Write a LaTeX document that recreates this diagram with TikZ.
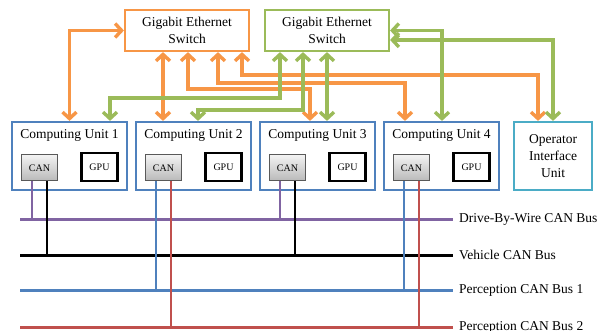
\documentclass[tikz,border=0pt]{standalone}
\usepackage{fontspec}
\setmainfont{Liberation Serif}
\usetikzlibrary{arrows.meta}
\definecolor{ethOrange}{HTML}{F79646}
\definecolor{ethGreen}{HTML}{9BBB59}
\definecolor{unitBlue}{HTML}{4F81BD}
\definecolor{oiuCyan}{HTML}{4BACC6}
\definecolor{busPurple}{HTML}{8064A2}
\definecolor{busRed}{HTML}{C0504D}
\definecolor{busBlue}{HTML}{4F81BD}
\begin{document}
\begin{tikzpicture}
        [x=1pt, y=-1pt, font=\fontsize{13.5}{16}\selectfont,
        switchO/.style={draw=ethOrange, line width=2.2pt, minimum width=124pt, minimum height=41pt, align=center, inner sep=0pt, font=\fontsize{13.5}{17.5}\selectfont},
        switchG/.style={switchO, draw=ethGreen},
        unit/.style={draw=unitBlue, line width=2.2pt, minimum width=115pt, minimum height=68pt},
        canbox/.style={draw=gray!70!black, line width=1pt, top color=gray!10, bottom color=gray!55, minimum width=36pt, minimum height=26pt, font=\fontsize{10}{12}\selectfont},
        gpubox/.style={draw, line width=2.4pt, minimum width=36pt, minimum height=28pt, font=\fontsize{10}{12}\selectfont},
        linkO/.style={ethOrange, line width=3.4pt, {Straight Barb[length=6.5pt,width=14pt]}-{Straight Barb[length=6.5pt,width=14pt]}},
        linkG/.style={linkO, ethGreen},
        stub/.style={line width=2.6pt}]
        \useasboundingbox (0,0) rectangle (602,331);

        \node[switchO] (esw1) at (187,30.5) {Gigabit Ethernet\\Switch};
        \node[switchG] (esw2) at (327,30.5) {Gigabit Ethernet\\Switch};

        \foreach \i in {1,...,4} {
            \node[unit] (cu\i) at ({69.5+124*(\i-1)},156) {};
            \node (title\i) at ([yshift=21pt]cu\i.center) {Computing Unit \i};
            \node[canbox] (can\i) at ([xshift=-30pt,yshift=-12pt]cu\i.center) {CAN};
            \node[gpubox] (gpu\i) at ([xshift=30pt,yshift=-11pt]cu\i.center) {GPU};
        }
        \node[unit, draw=oiuCyan, minimum width=78pt, align=center, font=\fontsize{13.5}{17}\selectfont] (oiu) at (553,156) {Operator\\Interface\\Unit};

        % buses
        \foreach \b/\y/\c/\t in {dbw/219/busPurple/Drive-By-Wire CAN Bus, veh/255/black/Vehicle CAN Bus, pc1/290/busBlue/Perception CAN Bus 1, pc2/327/busRed/Perception CAN Bus 2} {
            \coordinate (\b W) at (20,\y);
            \coordinate (\b E) at (453,\y);
            \draw[\c, line width=3pt] (\b W) -- (\b E);
            \node[anchor=west, inner sep=0pt] (\b L) at ([xshift=6pt]\b E) {\t};
        }
        \foreach \i/\p/\q/\cp/\cq in {1/dbw/veh/busPurple/black, 2/pc1/pc2/busBlue/busRed, 3/dbw/veh/busPurple/black, 4/pc1/pc2/busBlue/busRed} {
            \draw[stub, \cp] ([xshift=-7.5pt]can\i.south) -- ([xshift=-7.5pt]can\i.south |- \p W);
            \draw[stub, \cq] ([xshift=7.5pt]can\i.south) -- ([xshift=7.5pt]can\i.south |- \q W);
        }

        % ethernet links
        \draw[linkO] (esw1.west) -| (cu1.north);
        \draw[linkO] ([xshift=-24pt]esw1.south) -- ([xshift=-24pt]esw1.south |- cu2.north);
        \draw[linkO] ([xshift=1pt]esw1.south) -- ++(0,37) -| ([xshift=-7.5pt]cu3.north);
        \draw[linkO] ([xshift=31pt]esw1.south) -- ++(0,31) -| ([xshift=-36.5pt]cu4.north);
        \draw[linkO] ([xshift=55pt]esw1.south) -- ++(0,23) -| ([xshift=-15pt]oiu.north);

        \draw[linkG] ([xshift=-47pt]esw2.south) -- ++(0,46) -| ([xshift=40.5pt]cu1.north);
        \draw[linkG] ([xshift=-24pt]esw2.south) -- ++(0,58) -| ([xshift=4.5pt]cu2.north);
        \draw[linkG] (esw2.south) -- (esw2.south |- cu3.north);
        \draw[linkG] (esw2.east) -| ([xshift=0.5pt]cu4.north);
        \draw[linkG] ([yshift=-9.5pt]esw2.east) -| (oiu.north);

    \end{tikzpicture}
\end{document}
